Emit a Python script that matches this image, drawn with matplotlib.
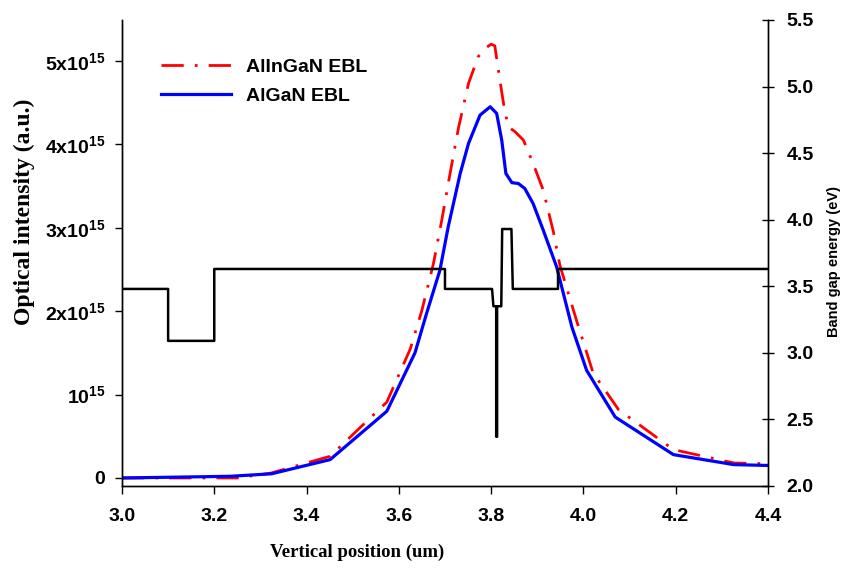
import numpy as np
import matplotlib
matplotlib.use("Agg")
import matplotlib.pyplot as plt
from matplotlib.ticker import FixedLocator, FixedFormatter

plt.rcParams['font.family'] = ['Liberation Sans', 'DejaVu Sans']
plt.rcParams['mathtext.fontset'] = 'custom'
plt.rcParams['mathtext.rm'] = 'Liberation Sans:bold'
plt.rcParams['mathtext.bf'] = 'Liberation Sans:bold'
plt.rcParams['mathtext.it'] = 'Liberation Sans:bold'
plt.rcParams['mathtext.default'] = 'bf'

# optical intensity, units of 1e15 (a.u.)
alingan_x = [3.0, 3.25, 3.324, 3.451, 3.574, 3.625, 3.65, 3.675, 3.693, 3.711, 3.729,
             3.751, 3.772, 3.787, 3.800, 3.808, 3.819, 3.828, 3.837, 3.852, 3.870,
             3.891, 3.913, 3.935, 3.949, 3.985, 4.021, 4.076, 4.195, 4.326, 4.4]
alingan_y = [0.0, 0.0, 0.06, 0.26, 0.91, 1.55, 2.01, 2.57, 3.09, 3.65, 4.19,
             4.73, 5.05, 5.15, 5.20, 5.18, 4.77, 4.45, 4.21, 4.15, 4.05,
             3.77, 3.45, 2.95, 2.55, 1.89, 1.26, 0.82, 0.34, 0.18, 0.17]

algan_x = [3.0, 3.234, 3.324, 3.451, 3.574, 3.635, 3.66, 3.689, 3.707, 3.733, 3.751,
           3.776, 3.798, 3.812, 3.823, 3.832, 3.845, 3.859, 3.873, 3.891, 3.913,
           3.942, 3.975, 4.007, 4.069, 4.195, 4.326, 4.4]
algan_y = [0.0, 0.02, 0.05, 0.22, 0.80, 1.50, 1.97, 2.49, 3.01, 3.65, 4.01,
           4.35, 4.45, 4.37, 4.05, 3.65, 3.54, 3.53, 3.47, 3.29, 2.97,
           2.53, 1.81, 1.29, 0.73, 0.28, 0.16, 0.15]

# band gap energy (eV)
gap_x = [3.0, 3.1, 3.1, 3.2, 3.2, 3.7, 3.7, 3.802, 3.805, 3.811, 3.811, 3.813,
         3.813, 3.822, 3.824, 3.844, 3.847, 3.945, 3.945, 4.4]
gap_y = [3.48, 3.48, 3.09, 3.09, 3.63, 3.63, 3.48, 3.48, 3.35, 3.35, 2.37, 2.37,
         3.35, 3.35, 3.93, 3.93, 3.48, 3.48, 3.63, 3.63]

x_ticks = [3.0, 3.2, 3.4, 3.6, 3.8, 4.0, 4.2, 4.4]
left_ticks = [0, 1e15, 2e15, 3e15, 4e15, 5e15]
left_labels = ['0', r'$10^{15}$', r'$2x10^{15}$', r'$3x10^{15}$', r'$4x10^{15}$', r'$5x10^{15}$']
right_ticks = [2.0, 2.5, 3.0, 3.5, 4.0, 4.5, 5.0, 5.5]

fig = plt.figure(figsize=(8.5, 5.68), dpi=100)
ax = fig.add_axes([0.1435, 0.1444, 0.76, 0.8204])
ax2 = ax.twinx()

ax.plot(alingan_x, np.array(alingan_y) * 1e15, color='red', lw=2.0,
        linestyle=(0, (8, 4, 1, 4)), label='AlInGaN EBL')
ax.plot(algan_x, np.array(algan_y) * 1e15, color='blue', lw=2.3, label='AlGaN EBL')
ax2.plot(gap_x, gap_y, color='black', lw=1.8)

ax.set_xlim(3.0, 4.4)
ax.set_ylim(-0.096e15, 5.49e15)
ax2.set_ylim(2.0, 5.5)

ax.xaxis.set_major_locator(FixedLocator(x_ticks))
ax.set_xticklabels([f'{t:.1f}' for t in x_ticks])
ax.yaxis.set_major_locator(FixedLocator(left_ticks))
ax.yaxis.set_major_formatter(FixedFormatter(left_labels))
ax2.yaxis.set_major_locator(FixedLocator(right_ticks))
ax2.set_yticklabels([f'{t:.1f}' for t in right_ticks])

for a in (ax, ax2):
    a.spines['top'].set_visible(False)
    for s in a.spines.values():
        s.set_linewidth(1.0)

ax.tick_params(axis='x', direction='out', length=6, width=1, pad=10, labelsize=14)
ax.tick_params(axis='y', direction='out', length=5, width=1, pad=7, labelsize=14)
ax2.tick_params(axis='y', direction='inout', length=9, width=1, pad=9, labelsize=14)
for lab in ax.get_xticklabels() + ax.get_yticklabels() + ax2.get_yticklabels():
    lab.set_fontweight('bold')

ax.set_xlabel('Vertical position (um)', family='Liberation Serif', fontweight='bold',
              fontsize=13.5)
ax.xaxis.set_label_coords(0.364, -0.123)
ax.set_ylabel('Optical intensity (a.u.)', family='Liberation Serif', fontweight='bold',
              fontsize=17)
ax.yaxis.set_label_coords(-0.135, 0.588)
ax2.set_ylabel('Band gap energy (eV)', fontsize=10.5, fontweight='bold')
ax2.yaxis.set_label_coords(1.091, 0.482)

ax.legend(loc='upper left', bbox_to_anchor=(0.06, 0.918), frameon=False,
          borderaxespad=0, borderpad=0,
          handlelength=3.6, handletextpad=0.8, labelspacing=0.6,
          prop={'family': 'Liberation Sans', 'weight': 'bold', 'size': 14})

fig.savefig('out.png', dpi=100)
